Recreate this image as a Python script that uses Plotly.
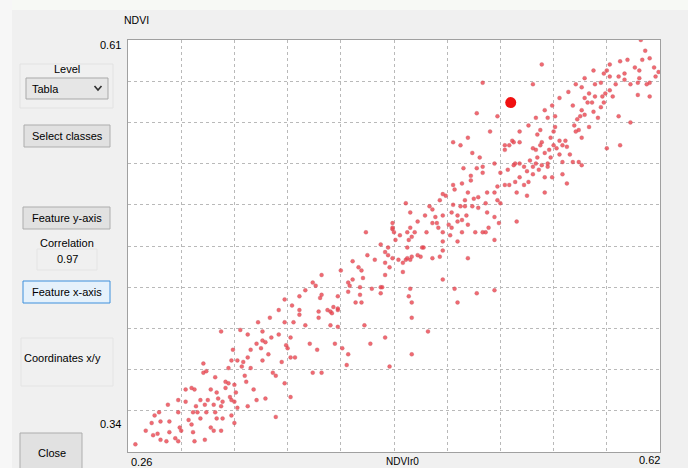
import plotly.graph_objects as go

# ---------------- data ----------------
x_title = "NDVIr0"
y_title = "NDVI"
x_min, x_max = 0.26, 0.62
y_min, y_max = 0.34, 0.61
correlation = "0.97"

ndvi_r0 = [
    0.265, 0.276, 0.278, 0.281, 0.277, 0.280, 0.282, 0.287, 0.288, 0.286,
    0.292, 0.294, 0.294, 0.295, 0.296, 0.294, 0.299, 0.303, 0.305, 0.299,
    0.304, 0.306, 0.307, 0.309, 0.303, 0.304, 0.305, 0.311, 0.313, 0.311,
    0.316, 0.314, 0.312, 0.313, 0.316, 0.312, 0.319, 0.320, 0.321, 0.318,
    0.319, 0.320, 0.318, 0.323, 0.324, 0.326, 0.328, 0.326, 0.329, 0.330,
    0.323, 0.324, 0.323, 0.331, 0.334, 0.337, 0.339, 0.340, 0.332, 0.333,
    0.332, 0.334, 0.332, 0.330, 0.338, 0.341, 0.343, 0.345, 0.347, 0.351,
    0.350, 0.351, 0.353, 0.355, 0.357, 0.358, 0.360, 0.360, 0.353, 0.347,
    0.341, 0.362, 0.364, 0.366, 0.367, 0.368, 0.370, 0.372, 0.370, 0.366,
    0.370, 0.373, 0.376, 0.376, 0.380,
    0.391, 0.387, 0.391, 0.390, 0.389, 0.389, 0.395, 0.397, 0.399, 0.398,
    0.402, 0.402, 0.397, 0.402, 0.402, 0.409, 0.412, 0.410, 0.409, 0.417,
    0.418, 0.419, 0.417, 0.414, 0.418, 0.420, 0.425, 0.431, 0.432, 0.431,
    0.434, 0.434, 0.434, 0.436, 0.437, 0.439, 0.443, 0.446, 0.446, 0.448,
    0.449, 0.451, 0.452, 0.449, 0.451, 0.450, 0.452, 0.452, 0.456, 0.458,
    0.459, 0.466, 0.471, 0.473, 0.473, 0.481, 0.483, 0.490, 0.496, 0.463,
    0.434, 0.424, 0.452, 0.437, 0.409, 0.408, 0.405, 0.400, 0.383, 0.388,
    0.385, 0.391,
    0.500, 0.496, 0.490, 0.480, 0.485, 0.493, 0.498, 0.487, 0.496, 0.492,
    0.500, 0.480, 0.473, 0.490, 0.494, 0.497, 0.488, 0.480, 0.485, 0.488,
    0.493, 0.497, 0.479, 0.483, 0.486, 0.483, 0.489, 0.490, 0.495, 0.500,
    0.486, 0.479, 0.477, 0.478, 0.483, 0.473, 0.473, 0.473, 0.468, 0.466,
    0.469, 0.470, 0.464, 0.462, 0.460, 0.448, 0.451, 0.454, 0.452, 0.449,
    0.450, 0.439, 0.439, 0.440, 0.439, 0.421, 0.436,
    0.607, 0.613, 0.608, 0.603, 0.606, 0.616, 0.619, 0.617, 0.613, 0.611,
    0.606, 0.605, 0.600, 0.596, 0.596, 0.605, 0.613, 0.592, 0.590, 0.586,
    0.584, 0.582, 0.575, 0.580, 0.586, 0.583, 0.588, 0.581, 0.582, 0.580,
    0.576, 0.574, 0.572, 0.567, 0.569, 0.571, 0.567, 0.569, 0.566, 0.564,
    0.562, 0.565, 0.563, 0.561, 0.567, 0.572, 0.578, 0.575, 0.592, 0.600,
    0.593, 0.584, 0.567, 0.565, 0.559, 0.557, 0.556, 0.554, 0.552, 0.550,
    0.548, 0.546, 0.548, 0.549, 0.549, 0.544, 0.539, 0.537, 0.540, 0.539,
    0.536, 0.534, 0.537, 0.542, 0.545, 0.546, 0.552, 0.561, 0.554, 0.544,
    0.540, 0.536, 0.532, 0.534, 0.538, 0.544, 0.547, 0.554, 0.542, 0.534,
    0.530, 0.528, 0.525, 0.522, 0.521, 0.517, 0.515, 0.518, 0.522, 0.525,
    0.528, 0.531, 0.523, 0.530, 0.542, 0.557, 0.510, 0.508, 0.503, 0.500,
    0.512, 0.508, 0.510, 0.512, 0.502, 0.503, 0.508, 0.511, 0.504, 0.502,
    0.508, 0.523, 0.510, 0.505, 0.518, 0.521, 0.525, 0.515, 0.534, 0.540,
    0.508,
    0.336, 0.341, 0.348, 0.356, 0.362, 0.366, 0.371, 0.376, 0.380, 0.385,
    0.404, 0.412, 0.416, 0.422, 0.427, 0.431, 0.441, 0.444, 0.451, 0.456,
    0.461, 0.466, 0.471, 0.475, 0.481, 0.486, 0.492, 0.515, 0.520, 0.525,
    0.531, 0.536, 0.542, 0.547, 0.552, 0.558, 0.563, 0.569, 0.576, 0.586,
    0.593, 0.598, 0.610, 0.272, 0.282, 0.288, 0.301, 0.309, 0.328, 0.330,
    0.343, 0.351,
]

ndvi = [
    0.345, 0.359, 0.364, 0.366, 0.351, 0.352, 0.360, 0.371, 0.360, 0.347,
    0.349, 0.374, 0.366, 0.356, 0.354, 0.347, 0.381, 0.382, 0.381, 0.373,
    0.366, 0.370, 0.366, 0.362, 0.358, 0.353, 0.347, 0.398, 0.393, 0.392,
    0.381, 0.374, 0.371, 0.366, 0.356, 0.348, 0.389, 0.379, 0.375, 0.371,
    0.366, 0.362, 0.354, 0.370, 0.373, 0.386, 0.385, 0.382, 0.376, 0.374,
    0.354, 0.362, 0.419, 0.407, 0.400, 0.396, 0.390, 0.386, 0.384, 0.379,
    0.373, 0.369, 0.359, 0.364, 0.399, 0.402, 0.395, 0.381, 0.411, 0.419,
    0.408, 0.400, 0.412, 0.404, 0.415, 0.392, 0.390, 0.363, 0.375, 0.374,
    0.370, 0.417, 0.399, 0.425, 0.410, 0.408, 0.415, 0.425, 0.376, 0.385,
    0.402, 0.402, 0.442, 0.430, 0.423,
    0.456, 0.449, 0.443, 0.441, 0.432, 0.428, 0.433, 0.432, 0.435, 0.431,
    0.433, 0.434, 0.423, 0.422, 0.442, 0.451, 0.453, 0.449, 0.445, 0.448,
    0.459, 0.454, 0.443, 0.438, 0.438, 0.423, 0.447, 0.448, 0.448, 0.444,
    0.456, 0.464, 0.471, 0.469, 0.461, 0.467, 0.466, 0.464, 0.458, 0.466,
    0.467, 0.466, 0.468, 0.474, 0.447, 0.442, 0.438, 0.428, 0.469, 0.468,
    0.474, 0.467, 0.468, 0.472, 0.453, 0.447, 0.438, 0.467, 0.444, 0.419,
    0.415, 0.411, 0.404, 0.396, 0.404, 0.397, 0.408, 0.411, 0.411, 0.407,
    0.392, 0.392,
    0.582, 0.562, 0.546, 0.543, 0.541, 0.536, 0.533, 0.526, 0.526, 0.521,
    0.523, 0.515, 0.509, 0.510, 0.506, 0.507, 0.505, 0.502, 0.501, 0.501,
    0.501, 0.500, 0.497, 0.495, 0.492, 0.491, 0.495, 0.489, 0.484, 0.484,
    0.484, 0.487, 0.489, 0.482, 0.478, 0.478, 0.484, 0.495, 0.494, 0.490,
    0.490, 0.487, 0.501, 0.484, 0.474, 0.503, 0.497, 0.484, 0.481, 0.484,
    0.479, 0.490, 0.486, 0.484, 0.487, 0.484, 0.474,
    0.610, 0.598, 0.597, 0.592, 0.590, 0.592, 0.589, 0.586, 0.582, 0.581,
    0.585, 0.582, 0.581, 0.584, 0.588, 0.574, 0.573, 0.586, 0.581, 0.586,
    0.590, 0.588, 0.590, 0.582, 0.577, 0.575, 0.573, 0.573, 0.569, 0.566,
    0.573, 0.569, 0.575, 0.579, 0.572, 0.569, 0.564, 0.561, 0.560, 0.558,
    0.554, 0.551, 0.550, 0.567, 0.546, 0.553, 0.559, 0.563, 0.560, 0.556,
    0.541, 0.539, 0.528, 0.530, 0.535, 0.540, 0.544, 0.541, 0.544, 0.539,
    0.541, 0.546, 0.550, 0.553, 0.560, 0.559, 0.551, 0.548, 0.543, 0.541,
    0.538, 0.539, 0.533, 0.536, 0.538, 0.533, 0.535, 0.530, 0.530, 0.529,
    0.528, 0.529, 0.531, 0.527, 0.525, 0.527, 0.520, 0.522, 0.520, 0.522,
    0.524, 0.527, 0.529, 0.529, 0.528, 0.525, 0.515, 0.515, 0.517, 0.520,
    0.515, 0.517, 0.510, 0.508, 0.510, 0.516, 0.514, 0.510, 0.510, 0.527,
    0.523, 0.529, 0.505, 0.503, 0.503, 0.497, 0.494, 0.490, 0.487, 0.484,
    0.479, 0.491, 0.560, 0.550, 0.541, 0.543, 0.543, 0.541, 0.581, 0.594,
    0.446,
    0.420, 0.417, 0.425, 0.428, 0.433, 0.440, 0.436, 0.433, 0.446, 0.451,
    0.459, 0.465, 0.461, 0.469, 0.466, 0.476, 0.479, 0.482, 0.487, 0.491,
    0.495, 0.499, 0.505, 0.508, 0.512, 0.516, 0.518, 0.538, 0.544, 0.550,
    0.554, 0.559, 0.564, 0.567, 0.572, 0.576, 0.581, 0.585, 0.581, 0.594,
    0.596, 0.597, 0.603, 0.354, 0.348, 0.353, 0.361, 0.374, 0.395, 0.400,
    0.407, 0.413,
]

selected_x = [0.519]
selected_y = [0.569]

# ---------------- figure ----------------
W, H = 688, 468
L, R, T, B = 128, 660, 40, 452   # plot-area box in the window


def px(x):
    return (x - L) / (R - L)


def py(y):
    return (B - y) / (B - T)


FONT = "Liberation Sans"

fig = go.Figure()
fig.add_trace(go.Scatter(
    x=ndvi_r0, y=ndvi, mode="markers",
    marker=dict(size=4, color="rgba(236,64,74,0.78)",
                line=dict(width=0.5, color="rgba(190,90,100,0.6)")),
    hoverinfo="skip", showlegend=False,
))
fig.add_trace(go.Scatter(
    x=selected_x, y=selected_y, mode="markers",
    marker=dict(size=11, color="#f01010", line=dict(width=0)),
    hoverinfo="skip", showlegend=False,
))

shapes = []


def rect(x0, y0, x1, y1, fill, line, lw=1, layer="above"):
    shapes.append(dict(type="rect", xref="paper", yref="paper",
                       x0=px(x0), x1=px(x1), y0=py(y1), y1=py(y0),
                       fillcolor=fill, line=dict(color=line, width=lw),
                       layer=layer))


# window edges
rect(0, 0, 688, 10, "#f7f9f5", "rgba(0,0,0,0)", 0, "below")
rect(0, 0, 12, 468, "#f7f7f7", "rgba(0,0,0,0)", 0, "below")
# group boxes (faint)
rect(20, 64, 113, 108, "rgba(0,0,0,0)", "#e2e2e2")
rect(37, 249, 97, 270, "rgba(0,0,0,0)", "#e4e4e4")
rect(21, 338, 113, 386, "rgba(0,0,0,0)", "#e4e4e4")
# dropdown
rect(26, 78, 108, 99, "#e6e6e6", "#a9a9a9")
shapes.append(dict(type="path", xref="paper", yref="paper",
                   path=f"M {px(94.5)},{py(86)} L {px(98)},{py(90)} L {px(101.5)},{py(86)}",
                   line=dict(color="#303030", width=1.6)))
# buttons
rect(24, 125, 110, 147, "#e1e1e1", "#adadad")
rect(23, 207, 110, 229, "#e1e1e1", "#adadad")
rect(23, 281, 110, 303, "#e5f1fb", "#3c8fdc")
rect(20, 433, 82, 475, "#e1e1e1", "#adadad")

annotations = []


def text(x, y, s, anchor="center", size=11, color="#000"):
    annotations.append(dict(xref="paper", yref="paper", x=px(x), y=py(y),
                            text=s, showarrow=False, xanchor=anchor,
                            yanchor="middle", font=dict(family=FONT, size=size, color=color)))


text(67, 69, "Level")
text(30, 89, "Tabla", anchor="left")
text(67, 136, "Select classes")
text(67, 218, "Feature y-axis")
text(67, 243, "Correlation")
text(67, 259, correlation)
text(67, 292, "Feature x-axis")
text(62, 358, "Coordinates x/y")
text(52, 453, "Close")

text(136, 20, y_title, size=10.5)
text(123, 45, f"{y_max:.2f}", anchor="right")
text(123, 424, f"{y_min:.2f}", anchor="right")
text(141, 462, f"{x_min:.2f}")
text(649, 460, f"{x_max:.2f}")
text(402, 461, x_title, size=10)

fig.update_layout(
    width=W, height=H,
    margin=dict(l=L, r=W - R, t=T, b=H - B, pad=0),
    paper_bgcolor="#f0f0f0", plot_bgcolor="#ffffff",
    shapes=shapes, annotations=annotations,
    showlegend=False,
    xaxis=dict(range=[x_min, x_max], tick0=x_min, dtick=(x_max - x_min) / 10,
               showgrid=True, gridcolor="#b9b9b9", griddash="dot", gridwidth=1,
               showticklabels=False, ticks="", zeroline=False,
               showline=True, linecolor="#a0a0a0", linewidth=1, mirror=True),
    yaxis=dict(range=[y_min, y_max], tick0=y_min, dtick=(y_max - y_min) / 10,
               showgrid=True, gridcolor="#b9b9b9", griddash="dot", gridwidth=1,
               showticklabels=False, ticks="", zeroline=False,
               showline=True, linecolor="#a0a0a0", linewidth=1, mirror=True),
)

fig.write_html("out.html")
